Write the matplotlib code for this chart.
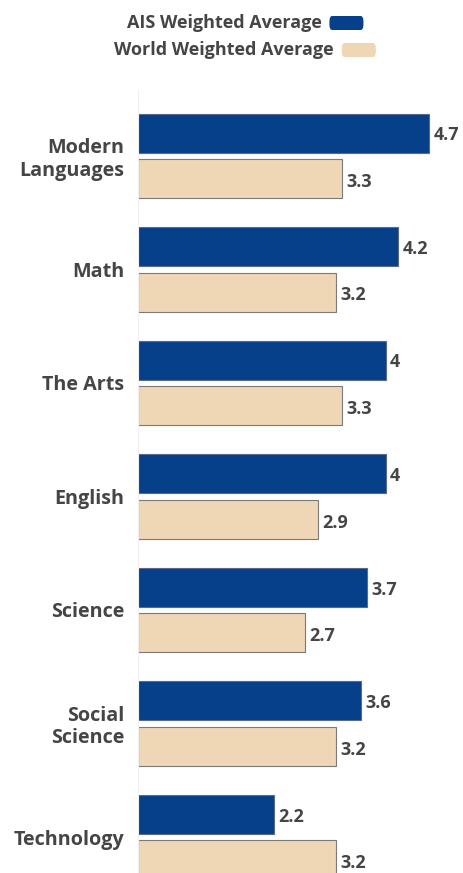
import matplotlib.pyplot as plt
import numpy as np
from matplotlib.patches import FancyBboxPatch

# Subject averages
categories = ["Modern\nLanguages", "Math", "The Arts", "English",
              "Science", "Social\nScience", "Technology"]
ais_avg = [4.7, 4.2, 4.0, 4.0, 3.7, 3.6, 2.2]
world_avg = [3.3, 3.2, 3.3, 2.9, 2.7, 3.2, 3.2]
ais_labels = ["4.7", "4.2", "4", "4", "3.7", "3.6", "2.2"]
world_labels = ["3.3", "3.2", "3.3", "2.9", "2.7", "3.2", "3.2"]
series_names = ["AIS Weighted Average", "World Weighted Average"]

blue = '#063f8a'
tan = '#efd6b4'
text_color = '#454545'
font = ['Open Sans', 'DejaVu Sans']

fig = plt.figure(figsize=(4.63, 8.73), dpi=100)
ax = fig.add_axes([138 / 463, 0, 322 / 463, (873 - 90) / 873])

y = np.arange(len(categories))
h = 0.344
off = 0.2
ax.barh(y - off, ais_avg, height=h, color=blue, edgecolor='#5a6b88', linewidth=0.8)
ax.barh(y + off, world_avg, height=h, color=tan, edgecolor='#7a7a7a', linewidth=0.8)

for yi, v, lab in zip(y, ais_avg, ais_labels):
    ax.text(v + 0.07, yi - off + 0.02, lab, va='center', ha='left', fontsize=13,
            fontweight='bold', color=text_color, family=font)
for yi, v, lab in zip(y, world_avg, world_labels):
    ax.text(v + 0.07, yi + off + 0.03, lab, va='center', ha='left', fontsize=13,
            fontweight='bold', color=text_color, family=font)

ax.set_xlim(0, 5.2)
ax.set_ylim(6.317, -0.58)
ax.set_yticks(y)
ax.set_yticklabels(categories, fontsize=14.2, fontweight='bold', color=text_color,
                   family=font, linespacing=1.15)
ax.tick_params(axis='y', length=0, pad=10)
ax.set_xticks([])
for s in ['top', 'right', 'bottom']:
    ax.spines[s].set_visible(False)
ax.spines['left'].set_color('#f0f0f0')

# Legend rows, each centred
rows = [(series_names[0], blue, 23), (series_names[1], tan, 50)]
for name, col, py in rows:
    t = fig.text(0, 1 - py / 873, name, fontsize=13, fontweight='bold',
                 color=text_color, family=font, va='center', ha='left')
    fig.canvas.draw()
    bb = t.get_window_extent()
    tw = bb.width
    total = tw + 8 + 34
    x0 = 245 - total / 2
    t.set_x(x0 / 463)
    px = x0 + tw + 8
    fig.patches.append(FancyBboxPatch((px / 463, 1 - (py + 7) / 873), 34 / 463, 14 / 873,
                                      boxstyle='round,pad=0,rounding_size=0.006',
                                      transform=fig.transFigure, facecolor=col,
                                      edgecolor='none', figure=fig))

fig.savefig('out.png', dpi=100)
